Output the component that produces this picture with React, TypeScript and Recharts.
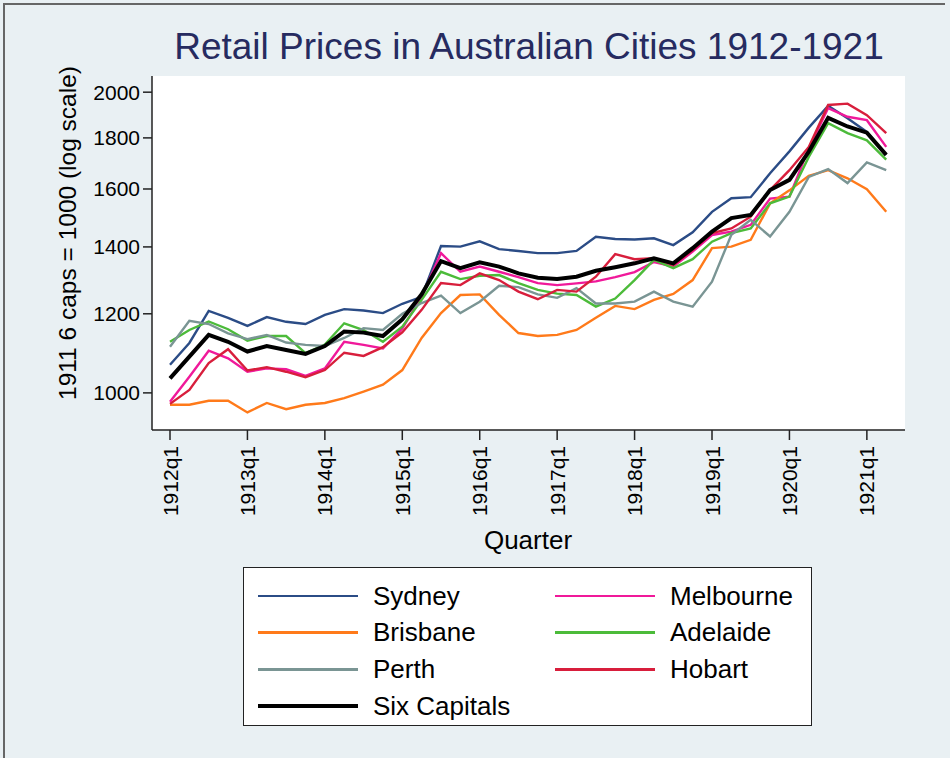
import React from "react";
import { LineChart, Line, XAxis, YAxis, CartesianGrid } from "recharts";

const quarters = [
  "1912q1", "1912q2", "1912q3", "1912q4",
  "1913q1", "1913q2", "1913q3", "1913q4",
  "1914q1", "1914q2", "1914q3", "1914q4",
  "1915q1", "1915q2", "1915q3", "1915q4",
  "1916q1", "1916q2", "1916q3", "1916q4",
  "1917q1", "1917q2", "1917q3", "1917q4",
  "1918q1", "1918q2", "1918q3", "1918q4",
  "1919q1", "1919q2", "1919q3", "1919q4",
  "1920q1", "1920q2", "1920q3", "1920q4",
  "1921q1", "1921q2",
];

const sydney = [1067, 1122, 1208, 1189, 1167, 1191, 1178, 1172, 1197, 1213, 1209, 1202, 1228, 1248, 1403, 1401, 1418, 1393, 1387, 1380, 1380, 1387, 1433, 1426, 1424, 1428, 1406, 1448, 1518, 1566, 1570, 1659, 1745, 1843, 1938, 1883, 1825, 1731];
const melbourne = [980, 1038, 1102, 1083, 1050, 1058, 1056, 1040, 1058, 1125, 1117, 1108, 1160, 1248, 1380, 1322, 1338, 1322, 1306, 1288, 1282, 1287, 1293, 1306, 1321, 1352, 1338, 1385, 1439, 1450, 1473, 1565, 1572, 1757, 1928, 1890, 1875, 1763];
const brisbane = [973, 973, 982, 982, 956, 977, 963, 973, 977, 988, 1003, 1019, 1054, 1135, 1202, 1253, 1255, 1197, 1148, 1140, 1143, 1156, 1189, 1222, 1213, 1239, 1256, 1297, 1396, 1401, 1423, 1548, 1595, 1649, 1671, 1640, 1599, 1518];
const adelaide = [1125, 1156, 1179, 1158, 1128, 1140, 1140, 1096, 1118, 1174, 1156, 1125, 1165, 1239, 1322, 1300, 1310, 1312, 1288, 1268, 1257, 1253, 1220, 1243, 1297, 1359, 1333, 1361, 1417, 1445, 1461, 1548, 1572, 1723, 1862, 1820, 1790, 1712];
const perth = [1112, 1181, 1172, 1147, 1132, 1143, 1123, 1117, 1114, 1135, 1161, 1156, 1200, 1230, 1251, 1202, 1234, 1280, 1276, 1255, 1245, 1273, 1229, 1229, 1234, 1263, 1234, 1220, 1292, 1440, 1490, 1434, 1518, 1645, 1675, 1622, 1701, 1671];
const hobart = [975, 1007, 1071, 1106, 1053, 1061, 1050, 1037, 1054, 1097, 1089, 1111, 1150, 1211, 1288, 1282, 1317, 1297, 1263, 1241, 1268, 1263, 1307, 1377, 1361, 1364, 1343, 1390, 1445, 1461, 1501, 1596, 1671, 1763, 1942, 1948, 1897, 1820];
const sixCapitals = [1034, 1087, 1143, 1125, 1100, 1114, 1104, 1094, 1114, 1152, 1149, 1140, 1185, 1255, 1355, 1333, 1351, 1338, 1317, 1304, 1300, 1307, 1325, 1336, 1348, 1364, 1348, 1396, 1450, 1496, 1507, 1596, 1634, 1744, 1885, 1848, 1822, 1731];

const xTicks = [0, 4, 8, 12, 16, 20, 24, 28, 32, 36];
const yTicks = [1000, 1200, 1400, 1600, 1800, 2000];

const series = [
  { key: "Sydney", values: sydney, color: "#2b4c86", width: 2.4 },
  { key: "Melbourne", values: melbourne, color: "#f0199a", width: 2.4 },
  { key: "Brisbane", values: brisbane, color: "#ff7a1a", width: 2.4 },
  { key: "Adelaide", values: adelaide, color: "#4cbb3a", width: 2.4 },
  { key: "Perth", values: perth, color: "#7a9594", width: 2.4 },
  { key: "Hobart", values: hobart, color: "#d81e3c", width: 2.4 },
  { key: "Six Capitals", values: sixCapitals, color: "#000000", width: 4 },
];

// legend is laid out in two columns like the original
const legendOrder = ["Sydney", "Melbourne", "Brisbane", "Adelaide", "Perth", "Hobart", "Six Capitals"];

const data = quarters.map((q, i) => {
  const row: Record<string, number | string> = { t: i, q };
  series.forEach((s) => {
    row[s.key] = s.values[i];
  });
  return row;
});

const font = "'Liberation Sans', Arial, sans-serif";

const XTick = (props: any) => {
  const { x, y, payload } = props;
  return (
    <text
      x={x}
      y={y}
      transform={`rotate(-90 ${x} ${y})`}
      textAnchor="end"
      dy="0.36em"
      fontSize={21}
      fontFamily={font}
      fill="#000"
    >
      {quarters[payload.value]}
    </text>
  );
};

export default function App() {
  return (
    <div
      style={{
        position: "absolute",
        left: 0,
        top: 0,
        width: 950,
        height: 758,
        background: "#e9f0f3",
        fontFamily: font,
        overflow: "hidden",
      }}
    >
      <div
        style={{
          position: "absolute",
          left: 3,
          top: 3,
          width: 940,
          height: 760,
          borderTop: "2px solid #666",
          borderLeft: "2px solid #666",
        }}
      />
      <div
        style={{
          position: "absolute",
          left: 0,
          top: 22,
          width: 1058,
          textAlign: "center",
          fontSize: 37,
          color: "#262b60",
          lineHeight: "50px",
        }}
      >
        Retail Prices in Australian Cities 1912-1921
      </div>
      <LineChart
        width={950}
        height={758}
        data={data}
        margin={{ top: 76, right: 45, bottom: 208, left: 92 }}
        style={{ position: "absolute", left: 0, top: 0 }}
      >
        <CartesianGrid horizontal={false} vertical={false} fill="#ffffff" />
        <XAxis
          type="number"
          dataKey="t"
          domain={[-0.93, 37.97]}
          ticks={xTicks}
          interval={0}
          height={120}
          tick={<XTick />}
          tickSize={10}
          tickMargin={6}
          stroke="#222"
          axisLine={{ stroke: "#222", strokeWidth: 1.5 }}
          tickLine={{ stroke: "#222", strokeWidth: 1.5 }}
          allowDataOverflow
        />
        <YAxis
          scale="log"
          domain={[918, 2076]}
          ticks={yTicks}
          interval={0}
          width={60}
          tickSize={9}
          tickMargin={3}
          tick={{ fontSize: 21, fill: "#000", fontFamily: font }}
          axisLine={{ stroke: "#222", strokeWidth: 1.5 }}
          tickLine={{ stroke: "#222", strokeWidth: 1.5 }}
          allowDataOverflow
        />
        {series.map((s) => (
          <Line
            key={s.key}
            type="linear"
            dataKey={s.key}
            stroke={s.color}
            strokeWidth={s.width}
            dot={false}
            activeDot={false}
            isAnimationActive={false}
          />
        ))}
      </LineChart>
      <div
        style={{
          position: "absolute",
          left: 68,
          top: 233,
          transform: "translate(-50%, -50%) rotate(-90deg)",
          whiteSpace: "nowrap",
          fontSize: 24.5,
          color: "#000",
        }}
      >
        1911 6 caps = 1000 (log scale)
      </div>
      <div
        style={{
          position: "absolute",
          left: 528,
          top: 540,
          transform: "translate(-50%, -50%)",
          whiteSpace: "nowrap",
          fontSize: 26,
          color: "#000",
        }}
      >
        Quarter
      </div>
      <div
        style={{
          position: "absolute",
          left: 243,
          top: 567,
          width: 567,
          height: 157,
          background: "#fff",
          border: "1.5px solid #222",
        }}
      >
        {legendOrder.map((name, i) => {
          const s = series.find((d) => d.key === name)!;
          const col = i % 2;
          const row = Math.floor(i / 2);
          return (
            <div
              key={name}
              style={{
                position: "absolute",
                left: col === 0 ? 14 : 311,
                top: 10 + row * 36.7,
                height: 36,
                display: "flex",
                alignItems: "center",
              }}
            >
              <div style={{ width: 100, height: s.width < 3 ? 2.5 : 3.5, background: s.color }} />
              <span style={{ marginLeft: 15, fontSize: 26, color: "#000" }}>{name}</span>
            </div>
          );
        })}
      </div>
    </div>
  );
}
